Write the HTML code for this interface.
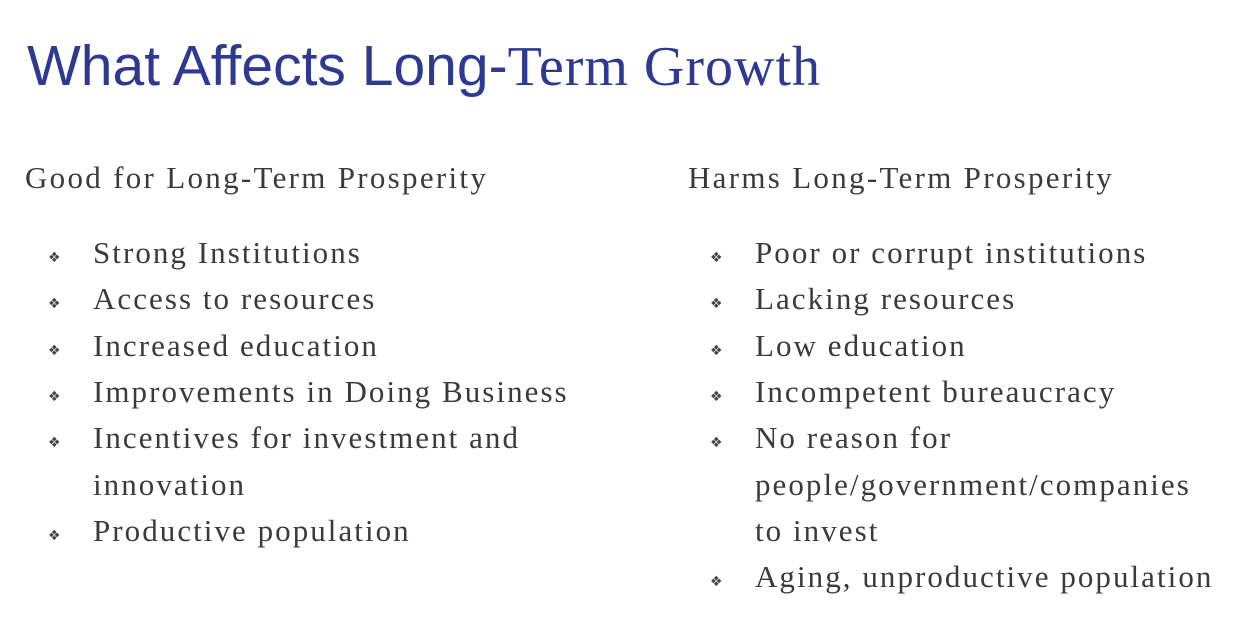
<!DOCTYPE html>
<html><head><meta charset="utf-8"><style>
html,body{margin:0;padding:0;background:#fff;width:1260px;height:618px;overflow:hidden;position:relative}
.t{position:absolute;white-space:nowrap;line-height:1}
#title{left:27px;top:38px;font-size:57px;color:#2e3a92;font-family:"Liberation Sans",sans-serif}
#title .s{font-family:"Liberation Serif",serif;font-size:56px;letter-spacing:1px}
.b{font-family:"Liberation Serif",serif;font-size:31px;letter-spacing:2.3px;color:#3a3a3a}
.i{letter-spacing:2.05px}
.bul{position:absolute;font-size:14px;color:#444;font-family:"DejaVu Sans",sans-serif;line-height:1}
</style></head><body>
<div class="t" id="title">What Affects Long-<span class="s">Term Growth</span></div>
<div class="t b" style="left:25px;top:162px">Good for Long-Term Prosperity</div>
<div class="t b" style="left:688px;top:162px">Harms Long-Term Prosperity</div>
<div id="items"></div>
<script>
const left=[["Strong Institutions",0],["Access to resources",1],["Increased education",2],["Improvements in Doing Business",3],["Incentives for investment and",4],["innovation",5,1],["Productive population",6]];
const right=[["Poor or corrupt institutions",0],["Lacking resources",1],["Low education",2],["Incompetent bureaucracy",3],["No reason for",4],["people/government/companies",5,1],["to invest",6,1],["Aging, unproductive population",7]];
const box=document.getElementById('items');
function add(list,bx,tx,col){
  list.forEach(function(it){
    const y=237+it[1]*46.3;
    const d=document.createElement('div');
    d.className='t b i';d.style.left=tx+'px';d.style.top=y+'px';d.textContent=it[0];
    
    
    box.appendChild(d);
    if(!it[2]){
      const s=document.createElement('div');
      s.className='bul';s.style.left=bx+'px';s.style.top=(y+14)+'px';s.textContent='❖';
      
      
      box.appendChild(s);
    }
  });
}
add(left,48,93,'good');
add(right,710,755,'harms');
</script>
</body></html>
